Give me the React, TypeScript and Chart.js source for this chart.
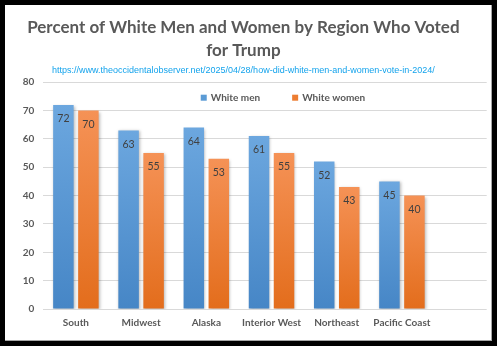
import React, { useEffect, useRef } from "react";
import { Chart, registerables } from "chart.js";

Chart.register(...registerables);

const categories = ["South", "Midwest", "Alaska", "Interior West", "Northeast", "Pacific Coast"];
const whiteMen = [72, 63, 64, 61, 52, 45];
const whiteWomen = [70, 55, 53, 55, 43, 40];
const seriesNames = ["White men", "White women"];
const titleLines = ["Percent of White Men and Women by Region Who Voted", "for Trump"];
const sourceUrl = "https://www.theoccidentalobserver.net/2025/04/28/how-did-white-men-and-women-vote-in-2024/";
const yMin = 0;
const yMax = 80;
const yStep = 10;

const FONT = "Lato, 'Open Sans', 'DejaVu Sans', sans-serif";
const TEXT = "#595959";

const gradStops: Record<string, [string, string]> = {
  blue: ["#6ca7df", "#4686c6"],
  orange: ["#f59256", "#e36d1c"],
};

function makeGrad(key: string) {
  return (ctx: any) => {
    const chart = ctx.chart;
    const [c1, c2] = gradStops[key];
    if (!chart.chartArea || ctx.type !== "data") return c1;
    const y = chart.scales.y;
    const raw = ctx.raw;
    const v = typeof raw === "object" ? raw.y : raw;
    const top = y.getPixelForValue(v);
    const bot = y.getPixelForValue(0);
    if (!isFinite(top) || !isFinite(bot) || top === bot) return c1;
    const g = chart.ctx.createLinearGradient(0, top, 0, bot);
    g.addColorStop(0, c1);
    g.addColorStop(1, c2);
    return g;
  };
}

const legendColors = ["#5b9bd5", "#ed7d31"];

const shadowPlugin = {
  id: "barShadow",
  beforeDatasetsDraw(chart: any) {
    const c = chart.ctx;
    c.save();
    c.shadowColor = "rgba(0,0,0,0.28)";
    c.shadowBlur = 3;
    c.shadowOffsetX = 1;
    c.shadowOffsetY = 1;
  },
  afterDatasetsDraw(chart: any) {
    chart.ctx.restore();
  },
};

const labelPlugin = {
  id: "valueLabels",
  afterDatasetsDraw(chart: any) {
    const c = chart.ctx;
    c.save();
    c.font = `10.5px ${FONT}`;
    c.fillStyle = "#404040";
    c.textAlign = "center";
    c.textBaseline = "middle";
    chart.data.datasets.forEach((ds: any, di: number) => {
      const meta = chart.getDatasetMeta(di);
      meta.data.forEach((bar: any, i: number) => {
        const v = ds.data[i].y;
        c.fillText(String(v), bar.x, bar.y + 14);
      });
    });
    c.restore();
  },
};

const legendPlugin = {
  id: "innerLegend",
  afterDraw(chart: any) {
    const c = chart.ctx;
    const area = chart.chartArea;
    c.save();
    c.font = `bold 10px ${FONT}`;
    c.textBaseline = "middle";
    const box = 6;
    const gapBoxText = 4;
    const gapItems = 32;
    const widths = seriesNames.map((n) => box + gapBoxText + c.measureText(n).width);
    const total = widths.reduce((a, b) => a + b, 0) + gapItems * (seriesNames.length - 1);
    const cx = (area.left + area.right) / 2 + 18;
    let x = cx - total / 2;
    const y = area.top + 15.5;
    seriesNames.forEach((n, i) => {
      c.fillStyle = legendColors[i];
      c.fillRect(x, y - box / 2, box, box);
      c.fillStyle = TEXT;
      c.fillText(n, x + box + gapBoxText, y + 0.5);
      x += widths[i] + gapItems;
    });
    c.restore();
  },
};

export default function App() {
  const ref = useRef<HTMLCanvasElement>(null);

  useEffect(() => {
    document.body.style.margin = "0";
    const canvas = ref.current!;
    const chart = new Chart(canvas, {
      type: "bar",
      data: {
        datasets: [
          {
            label: seriesNames[0],
            data: whiteMen.map((v, i) => ({ x: i, y: v })),
            backgroundColor: makeGrad("blue"),
            categoryPercentage: 0.767,
            barPercentage: 0.82,
          },
          {
            label: seriesNames[1],
            data: whiteWomen.map((v, i) => ({ x: i, y: v })),
            backgroundColor: makeGrad("orange"),
            categoryPercentage: 0.767,
            barPercentage: 0.82,
          },
        ],
      },
      options: {
        animation: false,
        responsive: false,
        maintainAspectRatio: false,
        devicePixelRatio: 1,
        layout: { padding: { top: 0, left: 0, right: 13.3, bottom: 20 } },
        plugins: {
          legend: { display: false },
          tooltip: { enabled: false },
          title: {
            display: true,
            text: titleLines,
            color: TEXT,
            font: { family: FONT, size: 17, weight: "bold", lineHeight: 1.35 },
            padding: { top: 16, bottom: 3 },
          },
          subtitle: {
            display: true,
            text: sourceUrl,
            color: "#14a3ec",
            font: { family: "'Liberation Sans', Arial, sans-serif", size: 9, lineHeight: 1.2 },
            padding: { top: 0.5, bottom: 6 },
          },
        },
        scales: {
          x: {
            type: "linear",
            min: -0.5,
            max: 6.3,
            offset: false,
            grid: { display: false, drawTicks: false, offset: false },
            border: { display: false },
            afterBuildTicks(scale: any) {
              scale.ticks = categories.map((_, i) => ({ value: i }));
            },
            ticks: {
              autoSkip: false,
              maxRotation: 0,
              padding: 8,
              color: TEXT,
              font: { family: FONT, size: 10, weight: "bold" },
              callback: (v: any) => categories[v as number] ?? "",
            },
            afterFit(scale: any) {
              scale.height = 21;
            },
          },
          y: {
            min: yMin,
            max: yMax,
            grid: { color: "#d9d9d9", drawTicks: false },
            border: { display: false },
            ticks: {
              stepSize: yStep,
              padding: 9,
              color: TEXT,
              font: { family: FONT, size: 10, weight: "bold" },
            },
            afterFit(scale: any) {
              scale.width = 43.3;
            },
          },
        },
      },
      plugins: [shadowPlugin, labelPlugin, legendPlugin],
    } as any);
    return () => chart.destroy();
  }, []);

  return (
    <div style={{ position: "relative", width: 500, height: 350, background: "#fff", overflow: "hidden" }}>
      <canvas ref={ref} width={500} height={350} style={{ position: "absolute", left: 0, top: 0, width: 500, height: 350 }} />
      <div
        style={{
          position: "absolute",
          left: 0,
          top: 0,
          width: 492,
          height: 341,
          boxSizing: "border-box",
          borderRight: "1px solid #a6a6a6",
          borderBottom: "1px solid #a6a6a6",
          pointerEvents: "none",
        }}
      />
      <div
        style={{
          position: "absolute",
          left: 0,
          top: 0,
          width: 497,
          height: 346,
          boxSizing: "border-box",
          borderLeft: "5px solid #000",
          borderTop: "5px solid #000",
          borderRight: "5px solid #000",
          borderBottom: "5px solid #000",
          pointerEvents: "none",
        }}
      />
    </div>
  );
}
